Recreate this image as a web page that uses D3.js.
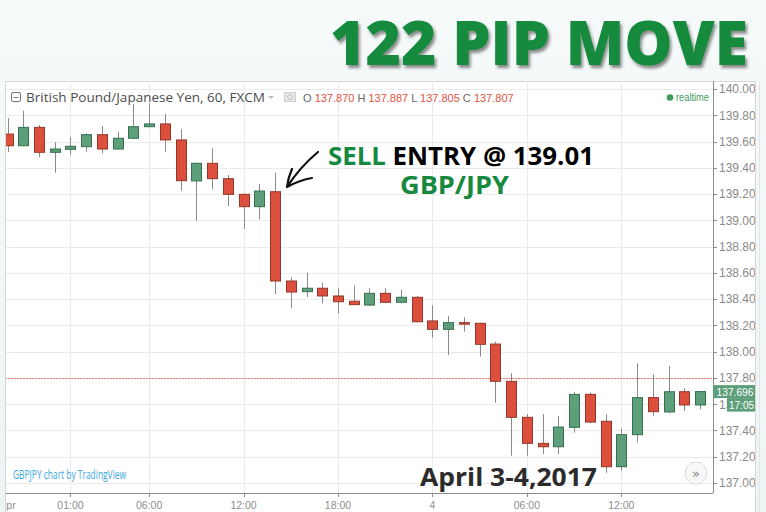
<!DOCTYPE html>
<html><head><meta charset="utf-8">
<script src="https://cdn.jsdelivr.net/npm/d3@7"></script>
<style>
html,body{margin:0;padding:0;background:#f3f7f7;}
svg{display:block;}
</style></head>
<body>
<svg id="c" width="766" height="512"></svg>
<script>
// ---- data (GBP/JPY, 60 min candles, 3-4 April 2017) ----
const opens  = [139.657,139.568,139.708,139.518,139.541,139.561,139.652,139.543,139.625,139.713,139.734,139.612,139.300,139.434,139.317,139.198,139.104,139.218,138.538,138.457,138.483,138.424,138.384,138.355,138.444,138.376,138.414,138.234,138.170,138.221,138.216,138.058,137.774,137.500,137.302,137.276,137.424,137.675,137.470,137.124,137.368,137.650,137.541,137.695,137.594];
const highs  = [139.779,139.835,139.726,139.594,139.635,139.663,139.718,139.675,139.886,139.891,139.810,139.693,139.439,139.549,139.345,139.206,139.277,139.363,138.566,138.601,138.525,138.483,138.502,138.483,138.483,138.470,138.424,138.353,138.272,138.262,138.220,138.076,137.835,137.525,137.525,137.510,137.695,137.688,137.523,137.417,137.911,137.828,137.891,137.721,137.691];
const lows   = [139.520,139.565,139.480,139.363,139.498,139.523,139.510,139.540,139.620,139.710,139.523,139.226,138.997,139.236,139.109,138.934,139.008,138.439,138.330,138.414,138.368,138.292,138.355,138.348,138.370,138.368,138.221,138.106,137.975,138.152,137.962,137.611,137.208,137.208,137.221,137.221,137.383,137.455,137.078,137.094,137.310,137.512,137.531,137.548,137.561];
const closes = [139.568,139.708,139.518,139.543,139.564,139.652,139.543,139.625,139.713,139.734,139.612,139.302,139.434,139.317,139.198,139.104,139.223,138.538,138.454,138.483,138.424,138.380,138.358,138.444,138.376,138.414,138.228,138.170,138.221,138.211,138.056,137.774,137.500,137.302,137.276,137.426,137.675,137.464,137.124,137.368,137.650,137.543,137.695,137.594,137.696];
const xTickLabels = ["Apr","01:00","06:00","12:00","18:00","4","06:00","12:00"];
const xTickIndex  = [0,4,9,15,21,27,33,39];
const yTicks = [137.0,137.2,137.4,137.6,137.8,138.0,138.2,138.4,138.6,138.8,139.0,139.2,139.4,139.6,139.8,140.0];
const lastPrice = 137.696;
const priceLine = 137.80;
const ohlcLabels = ["O","H","L","C"];
const ohlcValues = ["137.870","137.887","137.805","137.807"];

const svg = d3.select("#c");
const x = d3.scaleLinear().domain([0,44]).range([7.5,700]);
const y = d3.scaleLinear().domain([137,140]).range([483,89]);
const plotL=5, plotR=713, plotT=81, plotB=493, frameR=755;

const defs = svg.append("defs");
const g1 = defs.append("linearGradient").attr("id","bg").attr("x1",0).attr("x2",0).attr("y1",0).attr("y2",1);
g1.append("stop").attr("offset",0).attr("stop-color","#f6fafa");
g1.append("stop").attr("offset",1).attr("stop-color","#eef4f4");
svg.append("rect").attr("width",766).attr("height",512).attr("fill","url(#bg)");
const f = defs.append("filter").attr("id","sh").attr("x","-5%").attr("y","-20%").attr("width","115%").attr("height","150%");
f.append("feDropShadow").attr("dx",2).attr("dy",3).attr("stdDeviation",1.8).attr("flood-color","#333").attr("flood-opacity",0.55);
defs.append("clipPath").attr("id","plotclip").append("rect").attr("x",plotL+1).attr("y",plotT).attr("width",plotR-plotL-1).attr("height",plotB-plotT);
defs.append("clipPath").attr("id","frameclip").append("rect").attr("x",plotL+1).attr("y",0).attr("width",frameR-plotL-1).attr("height",512);

// chart frame
svg.append("rect").attr("x",plotL+0.5).attr("y",plotT+0.5).attr("width",frameR-plotL).attr("height",540)
  .attr("fill","#fff").attr("stroke","#d3d7d7");
svg.append("line").attr("x1",759.5).attr("x2",759.5).attr("y1",81).attr("y2",512).attr("stroke","#e2e6e6");

// grid
const grid = svg.append("g").attr("clip-path","url(#plotclip)");
grid.selectAll("line.h").data(yTicks).join("line")
  .attr("x1",plotL).attr("x2",plotR).attr("y1",d=>Math.round(y(d))+0.5).attr("y2",d=>Math.round(y(d))+0.5)
  .attr("stroke","#ebebeb");
grid.selectAll("line.v").data(xTickIndex.slice(1)).join("line")
  .attr("x1",d=>Math.round(x(d))+0.5).attr("x2",d=>Math.round(x(d))+0.5).attr("y1",plotT).attr("y2",plotB)
  .attr("stroke","#ebebeb");

// price line
grid.append("line").attr("x1",plotL).attr("x2",plotR).attr("y1",Math.round(y(priceLine))+0.5).attr("y2",Math.round(y(priceLine))+0.5)
  .attr("stroke","#f07a70").attr("stroke-dasharray","2,1");

// candles
const candles = d3.range(opens.length).map(i=>({i,o:opens[i],h:highs[i],l:lows[i],c:closes[i]}));
const cg = grid.append("g");
const bw = 10;
cg.selectAll("line.w").data(candles).join("line")
  .attr("x1",d=>Math.round(x(d.i))+0.5).attr("x2",d=>Math.round(x(d.i))+0.5)
  .attr("y1",d=>y(d.h)).attr("y2",d=>y(d.l)).attr("stroke","#8a8a8a").attr("stroke-width",1);
cg.selectAll("rect").data(candles).join("rect")
  .attr("x",d=>Math.round(x(d.i))-bw/2+0.5).attr("width",bw)
  .attr("y",d=>y(Math.max(d.o,d.c))).attr("height",d=>Math.max(1.5,Math.abs(y(d.o)-y(d.c))))
  .attr("fill",d=>d.c>=d.o?"#5e9f7b":"#dc4f3d")
  .attr("stroke",d=>d.c>=d.o?"#35704f":"#94372b").attr("stroke-width",1);

// right axis
const ra = svg.append("g").attr("clip-path","url(#frameclip)");
ra.append("line").attr("x1",plotR+0.5).attr("x2",plotR+0.5).attr("y1",plotT).attr("y2",plotB).attr("stroke","#8d8d8d");
ra.selectAll("line.t").data(yTicks).join("line")
  .attr("x1",plotR).attr("x2",plotR+4).attr("y1",d=>Math.round(y(d))+0.5).attr("y2",d=>Math.round(y(d))+0.5).attr("stroke","#8d8d8d");
ra.selectAll("text").data(yTicks).join("text")
  .attr("x",plotR+6).attr("y",d=>y(d)).attr("dy","0.36em")
  .attr("font-family","Liberation Sans, Arial, sans-serif").attr("font-size",12).attr("fill","#8a8a8a")
  .text(d=>d3.format(".3f")(d));
// last price badge
ra.append("rect").attr("x",plotR).attr("y",y(lastPrice)-6.5).attr("width",frameR-plotR).attr("height",13).attr("fill","#5e9f7b");
ra.append("text").attr("x",plotR+3.5).attr("y",y(lastPrice)).attr("dy","0.36em")
  .attr("font-family","Liberation Sans, Arial, sans-serif").attr("font-size",11.5).attr("fill","#fff")
  .attr("textLength",37).attr("lengthAdjust","spacingAndGlyphs").text(d3.format(".3f")(lastPrice));
ra.append("rect").attr("x",727).attr("y",y(lastPrice)+6.5).attr("width",frameR-727).attr("height",13.5).attr("fill","#5e9f7b");
ra.append("text").attr("x",729).attr("y",y(lastPrice)+13.3).attr("dy","0.36em")
  .attr("font-family","Liberation Sans, Arial, sans-serif").attr("font-size",11.5).attr("fill","#fff")
  .attr("textLength",25).attr("lengthAdjust","spacingAndGlyphs").text("17:05");

// bottom axis
const ba = svg.append("g").attr("clip-path","url(#frameclip)");
ba.append("line").attr("x1",plotL).attr("x2",plotR).attr("y1",plotB+0.5).attr("y2",plotB+0.5).attr("stroke","#8d8d8d");
ba.selectAll("line.t").data(xTickIndex.slice(1)).join("line")
  .attr("x1",d=>Math.round(x(d))+0.5).attr("x2",d=>Math.round(x(d))+0.5).attr("y1",plotB).attr("y2",plotB+4).attr("stroke","#8d8d8d");
ba.selectAll("text").data(xTickLabels).join("text")
  .attr("x",(d,i)=>x(xTickIndex[i])).attr("y",505).attr("dy","0.36em").attr("text-anchor","middle")
  .attr("font-family","Liberation Sans, Arial, sans-serif").attr("font-size",10.5).attr("fill","#8e8e8e")
  .text(d=>d);

// header
const hd = svg.append("g");
hd.append("rect").attr("x",11.5).attr("y",92.5).attr("width",9).attr("height",9).attr("rx",1.5).attr("fill","#fff").attr("stroke","#777");
hd.append("line").attr("x1",13.5).attr("x2",18.5).attr("y1",97.5).attr("y2",97.5).attr("stroke","#777");
hd.append("text").attr("x",26).attr("y",102).attr("font-family","Open Sans, sans-serif").attr("font-size",13).attr("fill","#4d4d4d")
  .attr("textLength",239).attr("lengthAdjust","spacingAndGlyphs").text("British Pound/Japanese Yen, 60, FXCM");
hd.append("path").attr("d","M268,96 L274,96 L271,99 Z").attr("fill","#bbb");
hd.append("rect").attr("x",284.5).attr("y",92.5).attr("width",11).attr("height",9).attr("fill","#e8e8e8").attr("stroke","#d0d0d0");
hd.append("circle").attr("cx",290).attr("cy",97).attr("r",2.5).attr("fill","none").attr("stroke","#c4c4c4");
const ohlc = hd.append("text").attr("x",303).attr("y",102).attr("font-family","Liberation Sans, Arial, sans-serif").attr("font-size",11);
ohlcLabels.forEach((l,i)=>{
  ohlc.append("tspan").attr("fill","#666").text((i?" ":"")+l+" ");
  ohlc.append("tspan").attr("fill","#e0533f").text(ohlcValues[i]);
});
hd.append("circle").attr("cx",670).attr("cy",97.5).attr("r",3.3).attr("fill","#3f9a62");
hd.append("text").attr("x",676).attr("y",101).attr("font-family","Liberation Sans, Arial, sans-serif").attr("font-size",10.5).attr("fill","#3f9a62")
  .attr("textLength",33).attr("lengthAdjust","spacingAndGlyphs").text("realtime");

// watermark
svg.append("text").attr("x",13).attr("y",479).attr("font-family","Open Sans, sans-serif").attr("font-size",12).attr("fill","#3ba9e0")
  .attr("textLength",113).attr("lengthAdjust","spacingAndGlyphs").text("GBPJPY chart by TradingView");

// scroll button
svg.append("circle").attr("cx",696).attr("cy",473).attr("r",11).attr("fill","#f7f7f7").attr("stroke","#dcdcdc");
svg.append("text").attr("x",696).attr("y",473).attr("dy","0.35em").attr("text-anchor","middle").attr("font-family","DejaVu Sans, sans-serif").attr("font-size",13).attr("fill","#888").text("»");

// annotations
svg.append("text").attr("x",330).attr("y",65).attr("font-family","Open Sans, sans-serif").attr("font-weight",800).attr("font-size",62)
  .attr("fill","#138a3e").attr("filter","url(#sh)").attr("textLength",418).attr("lengthAdjust","spacingAndGlyphs").text("122 PIP MOVE");
const se = svg.append("text").attr("x",328).attr("y",165).attr("font-family","Open Sans, sans-serif").attr("font-weight",700).attr("font-size",24.5)
  .attr("textLength",266).attr("lengthAdjust","spacingAndGlyphs");
se.append("tspan").attr("fill","#16893f").text("SELL ");
se.append("tspan").attr("fill","#000").text("ENTRY @ 139.01");
svg.append("text").attr("x",400).attr("y",194).attr("font-family","Open Sans, sans-serif").attr("font-weight",700).attr("font-size",24.5)
  .attr("fill","#16893f").attr("textLength",109).attr("lengthAdjust","spacingAndGlyphs").text("GBP/JPY");
svg.append("path").attr("d","M318,152 Q300,167 287,187 M287,187 Q288,178 292,169 M287,187 Q300,180 312,178")
  .attr("fill","none").attr("stroke","#111").attr("stroke-width",2.2).attr("stroke-linecap","round");
svg.append("text").attr("x",420).attr("y",486).attr("font-family","Open Sans, sans-serif").attr("font-weight",700).attr("font-size",25)
  .attr("fill","#2b2b2b").attr("textLength",177).attr("lengthAdjust","spacingAndGlyphs").text("April 3-4,2017");
</script>
</body></html>
